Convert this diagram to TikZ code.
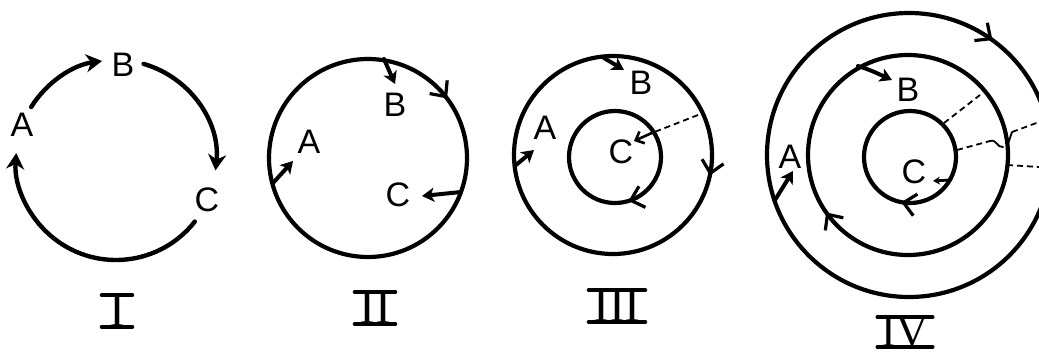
\documentclass[tikz,border=0pt]{standalone}
\usepackage{fontspec}
\setmainfont{Liberation Serif}
\newfontfamily\lblfont{Liberation Sans}
\usetikzlibrary{arrows.meta}
\begin{document}
\begin{tikzpicture}[x=1pt,y=-1pt,line cap=round,
  ring/.style={line width=4.2pt},
  flow/.style={line width=4.4pt,-{Stealth[length=16pt,width=18pt,inset=5pt]}},
  poke/.style={line width=4pt,-{Stealth[length=12pt,width=14pt,inset=3pt]}},
  chev/.style={line width=3.2pt,-{Straight Barb[length=12pt,width=22pt]}},
  dline/.style={line width=1.8pt,dash pattern=on 6pt off 4pt,line cap=butt},
  lbl/.style={font=\lblfont\fontsize{34}{34}\selectfont,inner sep=0pt},
  numl/.style={font=\fontsize{48}{48}\selectfont,inner sep=0pt},
  bar/.style={line width=4.2pt}]
\useasboundingbox (0,0) rectangle (1039,354);
\clip (0,0) rectangle (1039,354);
% ---------- Panel I ----------
\coordinate (c1) at (116,160);
\node[lbl] (IA) at (22,125) {A};
\node[lbl] (IB) at (123,65) {B};
\node[lbl] (IC) at (207,200) {C};
\draw[flow] ([shift={(212:100)}]c1) arc[start angle=212,end angle=262,radius=100];
\draw[flow] ([shift={(286:100)}]c1) arc[start angle=286,end angle=366,radius=100];
\draw[flow] ([shift={(38:100)}]c1) arc[start angle=38,end angle=184,radius=100];
\node[numl] (n1) at (117,311) {I};
\draw[bar] ([xshift=-7pt]n1.north west) -- ([xshift=7pt]n1.north east);
\draw[bar] ([xshift=-7pt]n1.south west) -- ([xshift=7pt]n1.south east);
% ---------- Panel II ----------
\coordinate (c2) at (368,158);
\draw[ring] (c2) circle[radius=99];
\node[lbl] (IIA) at (309,142) {A};
\node[lbl] (IIB) at (395,105) {B};
\node[lbl] (IIC) at (398,195) {C};
\coordinate (p2b) at (384,59);
\coordinate (p2a) at (273,183);
\coordinate (p2c) at (461,192);
\draw[poke] (p2b) -- (395,84);
\draw[poke] (p2a) -- (293,161);
\draw[poke] (p2c) -- (422,196);
\draw[chev] ([shift={(300:99)}]c2) arc[start angle=300,end angle=323,radius=99];
\node[numl] (n2) at (375,308) {II};
\draw[bar] ([xshift=-4pt]n2.north west) -- ([xshift=4pt]n2.north east);
\draw[bar] ([xshift=-4pt]n2.south west) -- ([xshift=4pt]n2.south east);
% ---------- Panel III ----------
\coordinate (c3o) at (613,155);
\coordinate (c3i) at (615,157);
\draw[ring] (c3o) circle[radius=99];
\draw[ring] (c3i) circle[radius=46];
\node[lbl] (IIIA) at (545,128) {A};
\node[lbl] (IIIB) at (641,83) {B};
\node[lbl] (IIIC) at (621,152) {C};
\draw[poke] (604,58) -- (624,70);
\draw[poke] (516,165) -- (534,150);
\coordinate (d3s) at (698,115);
\draw[dline] (d3s) -- (652,133);
\draw[line width=2.6pt,-{Straight Barb[length=7pt,width=13pt]}] (654,132) -- (634,141);
\draw[chev] ([shift={(-10:99)}]c3o) arc[start angle=-10,end angle=12,radius=99];
\draw[chev] ([shift={(42:46)}]c3i) arc[start angle=42,end angle=73,radius=46];
\node[numl] (n3) at (617,306) {III};
\draw[bar] ([xshift=-4pt]n3.north west) -- ([xshift=4pt]n3.north east);
\draw[bar] ([xshift=-4pt]n3.south west) -- ([xshift=4pt]n3.south east);
% ---------- Panel IV ----------
\coordinate (c4o) at (909,155);
\coordinate (c4m) at (908,155);
\coordinate (c4i) at (910,157);
\draw[ring] (c4o) circle[radius=142];
\draw[ring] (c4m) circle[radius=100];
\draw[ring] (c4i) circle[radius=46];
\node[lbl] (IVA) at (790,157) {A};
\node[lbl] (IVB) at (908,90) {B};
\node[lbl] (IVC) at (914,172) {C};
\draw[chev] ([shift={(288:142)}]c4o) arc[start angle=288,end angle=306,radius=142];
\draw[chev] ([shift={(122:100)}]c4m) arc[start angle=122,end angle=145,radius=100];
\draw[chev] ([shift={(70:46)}]c4i) arc[start angle=70,end angle=101,radius=46];
\draw[poke] (858,66) .. controls (870,70) .. (892,80);
\draw[poke] (775,200) -- (793,171);
\draw[line width=2.8pt,-{Stealth[length=7pt,width=8pt]}] (950,180) -- (933,181);
\draw[dline] (944,123) -- (980,95);
\draw[dline] (957,150) -- (990,141);
\draw[line width=1.8pt] (990,141) .. controls (997,139) and (997,148) .. (1003,147);
\draw[line width=1.8pt] (1008,144) -- (1012,132);
\draw[dline] (1012,132) -- (1039,122);
\draw[dline] (1007,165) -- (1039,167);
\node[numl,font=\fontsize{44}{44}\selectfont] (n4) at (905,332) {IV};
\draw[bar] ([xshift=-4pt]n4.north west) -- ([xshift=4pt]n4.north east);
\draw[bar] ([xshift=-4pt]n4.south west) -- ([xshift=4pt]n4.south east);
\end{tikzpicture}
\end{document}
